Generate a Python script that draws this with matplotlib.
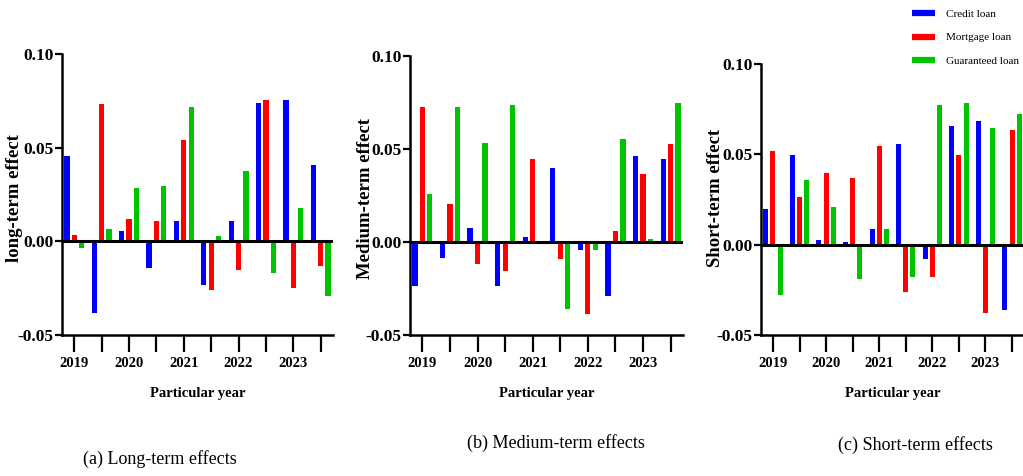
import numpy as np
import matplotlib
matplotlib.use("Agg")
import matplotlib.pyplot as plt
from matplotlib.lines import Line2D

plt.rcParams['font.family'] = ['Liberation Serif', 'DejaVu Serif']

# two groups per year, labels on every other tick
years = ["2019", "2020", "2021", "2022", "2023"]
series = ["Credit loan", "Mortgage loan", "Guaranteed loan"]
colors = ["#0000ff", "#ff0000", "#00c400"]

long_credit = [0.0454, -0.0383, 0.0055, -0.0144, 0.0106, -0.0232, 0.0106, 0.0738, 0.0755, 0.0406]
long_mortgage = [0.0035, 0.0734, 0.0117, 0.0106, 0.0539, -0.0259, -0.0152, 0.0755, -0.0250, -0.0131]
long_guaranteed = [-0.0037, 0.0064, 0.0287, 0.0298, 0.0716, 0.0027, 0.0376, -0.0170, 0.0176, -0.0290]

med_credit = [-0.0236, -0.0084, 0.0077, -0.0236, 0.0027, 0.0396, -0.0043, -0.0293, 0.0464, 0.0445]
med_mortgage = [0.0725, 0.0204, -0.0120, -0.0154, 0.0448, -0.0093, -0.0389, 0.0057, 0.0368, 0.0527]
med_guaranteed = [0.0257, 0.0725, 0.0534, 0.0738, 0.0, -0.0361, -0.0043, 0.0555, 0.0016, 0.0746]

short_credit = [0.0199, 0.0498, 0.0028, 0.0017, 0.0089, 0.0557, -0.0081, 0.0657, 0.0685, -0.0362]
short_mortgage = [0.0517, 0.0266, 0.0399, 0.0367, 0.0546, -0.0260, -0.0177, 0.0498, -0.0376, 0.0635]
short_guaranteed = [-0.0280, 0.0356, 0.0208, -0.0192, 0.0087, -0.0179, 0.0775, 0.0782, 0.0648, 0.0725]

panels = [
    ("long-term effect", "(a) Long-term effects", [long_credit, long_mortgage, long_guaranteed]),
    ("Medium-term effect", "(b) Medium-term effects", [med_credit, med_mortgage, med_guaranteed]),
    ("Short-term effect", "(c) Short-term effects", [short_credit, short_mortgage, short_guaranteed]),
]

W, H = 1023, 476
fig = plt.figure(figsize=(W / 100, H / 100), dpi=100)

# axes boxes in pixels: left, right, top, bottom
boxes = [(62, 333, 54, 335), (410, 683, 56, 335), (761, 1024, 64, 335)]
ylab_x = [15, 365, 715]
cap_pos = [(160, 459), (556, 443), (915, 445)]

x = np.arange(10)
off = 0.27
bw = 0.19

for (ylab, cap, vals), (l, r, t, b), yx, (cx, cy) in zip(panels, boxes, ylab_x, cap_pos):
    ax = fig.add_axes([l / W, 1 - b / H, (r - l) / W, (b - t) / H])
    for i, (v, c) in enumerate(zip(vals, colors)):
        ax.bar(x + (i - 1) * off, v, bw, color=c, zorder=2)
    ax.axhline(0, color="black", lw=2.2, zorder=3)
    ax.set_xlim(-0.45, 9.45)
    ax.set_ylim(-0.05, 0.10)
    ax.set_yticks([-0.05, 0.0, 0.05, 0.10])
    ax.set_yticklabels(["-0.05", "0.00", "0.05", "0.10"], fontsize=12.5, fontweight="bold")
    ax.set_xticks(x)
    ax.set_xticklabels([years[k // 2] if k % 2 == 0 else "" for k in x],
                       fontsize=10.5, fontweight="bold")
    ax.tick_params(axis="x", length=12, width=1.6, pad=4)
    ax.tick_params(axis="y", length=5, width=1.6, pad=1)
    for s in ["top", "right"]:
        ax.spines[s].set_visible(False)
    for s in ["left", "bottom"]:
        ax.spines[s].set_linewidth(1.8)
    fig.text(yx / W, 1 - 198 / H, ylab, rotation=90, ha="center", va="center",
             fontsize=13.5, fontweight="bold")
    fig.text((l + r) / 2 / W, 1 - 394 / H, "Particular year", ha="center", va="center",
             fontsize=10.5, fontweight="bold")
    fig.text(cx / W, 1 - cy / H, cap, ha="center", va="center", fontsize=13)

handles = [Line2D([0], [0], color=c, lw=4.5, solid_capstyle="butt") for c in colors]
fig.legend(handles, series, loc="upper left", bbox_to_anchor=(912 / W, 1 - 9 / H),
           frameon=False, fontsize=8, handlelength=2.1, handletextpad=1.0,
           labelspacing=1.25, borderpad=0, borderaxespad=0)

fig.savefig("out.png", dpi=100)
